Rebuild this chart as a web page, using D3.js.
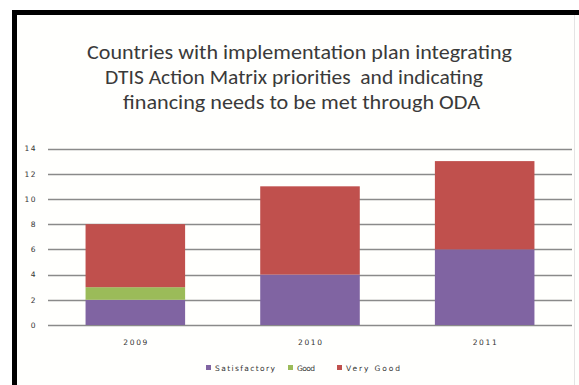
<!DOCTYPE html>
<html>
<head>
<meta charset="utf-8">
<script src="https://cdn.jsdelivr.net/npm/d3@7"></script>
<style>
  html, body { margin: 0; padding: 0; background: #fff; }
  svg { display: block; }
  .title { white-space: pre; }
</style>
</head>
<body>
<svg id="chart" width="579" height="385"></svg>
<script>
// Chart data
const years = ["2009", "2010", "2011"];
const satisfactory = [2, 4, 6];
const good = [1, 0, 0];
const veryGood = [5, 7, 7];
const seriesNames = ["Satisfactory", "Good", "Very Good"];
const seriesColors = ["#8064A2", "#9BBB59", "#C0504D"];
const yTicks = [0, 2, 4, 6, 8, 10, 12, 14];
const titleLines = [
  "Countries with implementation plan integrating",
  "DTIS Action Matrix priorities  and indicating",
  "financing needs to be met through ODA"
];

const svg = d3.select("#chart");
const W = 579, H = 385;
const smallFont = "'DejaVu Sans', sans-serif";

// Background and frame
svg.append("rect").attr("width", W).attr("height", H).attr("fill", "#fff");
svg.append("rect").attr("x", 17).attr("y", 15).attr("width", W - 17).attr("height", H - 15).attr("fill", "#fffffd");
svg.append("line").attr("x1", 574.5).attr("x2", 574.5).attr("y1", 15).attr("y2", H)
  .attr("stroke", "#e4e4e4").attr("stroke-width", 1);
svg.append("rect").attr("x", 12).attr("y", 10).attr("width", 5).attr("height", H - 10).attr("fill", "#000");
svg.append("rect").attr("x", 12).attr("y", 10).attr("width", W - 12).attr("height", 5).attr("fill", "#000");

// Title
const titleFont = "Carlito, Calibri, Lato, 'Liberation Sans', sans-serif";
const titleGeom = [
  { cx: 299.5, y: 59, len: 425 },
  { cx: 294, y: 84, len: 378 },
  { cx: 301.5, y: 109, len: 357 }
];
titleLines.forEach((t, i) => {
  svg.append("text")
    .attr("class", "title")
    .attr("x", titleGeom[i].cx - titleGeom[i].len / 2)
    .attr("y", titleGeom[i].y)
    .attr("font-family", titleFont)
    .attr("font-size", 20.5)
    .attr("fill", "#3a3a3a")
    .attr("textLength", titleGeom[i].len)
    .attr("lengthAdjust", "spacingAndGlyphs")
    .text(t);
});

// Scales
const plot = { left: 48, right: 572, top: 148.5, bottom: 325 };
const x = d3.scaleBand().domain(years).range([plot.left, plot.right]).paddingInner(0.43).paddingOuter(0.215);
const y = d3.scaleLinear().domain([0, 14]).range([plot.bottom, plot.top]);

// Gridlines
svg.append("g").selectAll("line").data(yTicks).join("line")
  .attr("x1", plot.left).attr("x2", plot.right)
  .attr("y1", d => Math.round(y(d)) + 0.5).attr("y2", d => Math.round(y(d)) + 0.5)
  .attr("stroke", "#8a8a8a").attr("stroke-width", 1.6);

// Y axis labels
const yAxis = d3.axisLeft(y).tickValues(yTicks).tickSize(0).tickPadding(0);
const gy = svg.append("g").attr("transform", `translate(37,0)`).call(yAxis);
gy.select(".domain").remove();
gy.selectAll("text").attr("font-family", smallFont).attr("font-size", 7.5)
  .attr("letter-spacing", 1.5).attr("fill", "#333");

// Stacked bars
const rows = years.map((yr, i) => ({ year: yr, Satisfactory: satisfactory[i], Good: good[i], "Very Good": veryGood[i] }));
const stack = d3.stack().keys(seriesNames)(rows);
const color = d3.scaleOrdinal().domain(seriesNames).range(seriesColors);
svg.append("g").selectAll("g").data(stack).join("g")
  .attr("fill", d => color(d.key))
  .selectAll("rect").data(d => d.filter(s => s[1] > s[0])).join("rect")
  .attr("x", d => x(d.data.year))
  .attr("width", x.bandwidth())
  .attr("y", d => y(d[1]))
  .attr("height", d => y(d[0]) - y(d[1]));

// X axis labels
const xAxis = d3.axisBottom(x).tickSize(0).tickPadding(0);
const gx = svg.append("g").attr("transform", `translate(0,340)`).call(xAxis);
gx.select(".domain").remove();
gx.selectAll("text").attr("font-family", smallFont).attr("font-size", 7.5)
  .attr("fill", "#333")
  .attr("x", -12).attr("text-anchor", "start")
  .attr("textLength", 24).attr("lengthAdjust", "spacing");

// Legend
const legendX = [206, 288, 337];
const legendLen = [60, 18, 54];
const lg = svg.append("g").selectAll("g").data(seriesNames).join("g")
  .attr("transform", (d, i) => `translate(${legendX[i]},365)`);
lg.append("rect").attr("width", 5).attr("height", 5).attr("fill", d => color(d));
lg.append("text").attr("x", 9).attr("y", 5.5)
  .attr("font-family", smallFont).attr("font-size", 7.5).attr("fill", "#333")
  .attr("textLength", (d, i) => legendLen[i]).attr("lengthAdjust", "spacing")
  .text(d => d);
</script>
</body>
</html>
